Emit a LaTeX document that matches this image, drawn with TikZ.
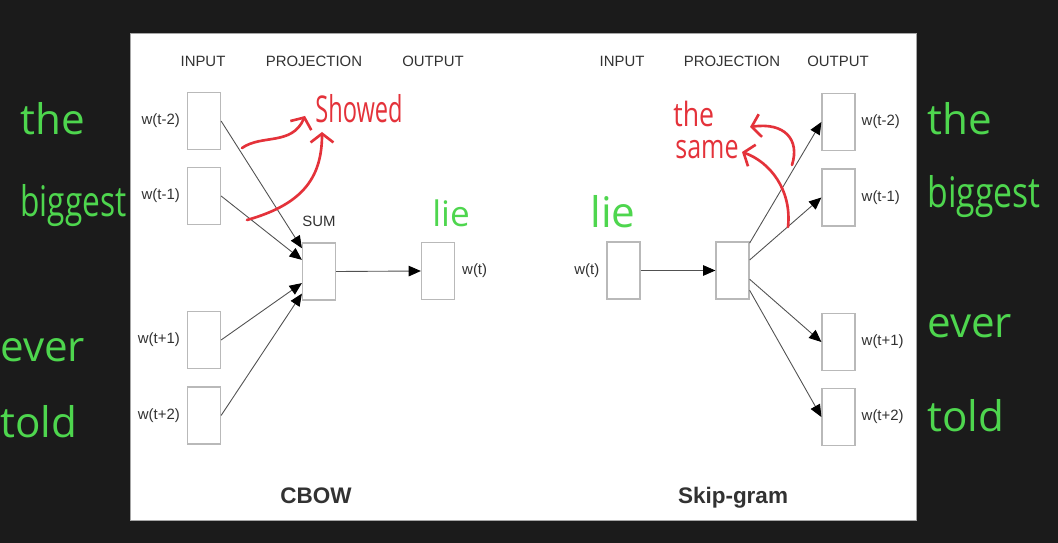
\documentclass[tikz,border=0pt]{standalone}
\usepackage{fontspec}
\setmainfont{Liberation Sans}
\newfontfamily\handfont{Open Sans}
\usetikzlibrary{
  arrows.meta,
  positioning,
  calc
}
\definecolor{board}{RGB}{27,27,27}
\definecolor{txt}{RGB}{50,50,50}
\definecolor{chalk}{RGB}{78,214,78}
\definecolor{ink}{RGB}{228,50,58}

\begin{document}
\begin{tikzpicture}[
  x=0.02cm, y=-0.02cm,
  every node/.style={font=\fontsize{8.5}{10}\selectfont, text=txt},
  unit/.style={draw=gray!55, line width=0.7pt, fill=white, inner sep=0pt,
               minimum width=0.66cm, minimum height=1.14cm},
  lbl/.style={inner sep=1pt},
  heading/.style={inner sep=0pt, anchor=base},
  title/.style={inner sep=0pt, anchor=base, font=\fontsize{12.8}{14}\selectfont\bfseries},
  link/.style={draw=txt!85, line width=0.5pt,
               -{Triangle[length=7pt, width=6pt, fill=black, color=black]}},
  hand/.style={inner sep=0pt, anchor=base west, text=chalk,
               font=\handfont\fontsize{24}{26}\selectfont},
  note/.style={inner sep=0pt, anchor=base west, text=ink,
               font=\handfont\fontsize{21}{24}\selectfont},
  scrawl/.style={draw=ink, line width=1.5pt, line cap=round, line join=round,
                 -{Straight Barb[length=5pt, width=13pt, line width=1.5pt]}}
]

% board and slide
\fill[board] (0,0) rectangle (1058,543);
\draw[gray!70, fill=white] (130,33) rectangle (916,520);

% ---- CBOW ----
\node[heading] (chin)  at (203,67) {INPUT};
\node[heading] (chpr)  at (314,67) {PROJECTION};
\node[heading] (chout) at (433,67) {OUTPUT};

\node[unit] (csum) at (319,271.5) {};
\node[lbl, above=0.28cm of csum] (csumlbl) {SUM};
\node[unit] (cout) at (438,271) {};
\node[lbl, right=0.1cm of cout] (coutlbl) {w(t)};

\foreach \n/\y/\w/\f in {1/121/t-2/0.1, 2/196/t-1/0.3, 3/340/t+1/0.7, 4/415.5/t+2/0.88} {
  \node[unit] (cin\n) at (204,\y) {};
  \node[lbl, left=0.1cm of cin\n] (cinlbl\n) {w(\w)};
  \draw[link] (cin\n.east) -- ($(csum.north west)!\f!(csum.south west)$);
}
\draw[link] (csum.east) -- (cout.west);

\node[title] (cbow) at (316,503) {CBOW};

% ---- Skip-gram ----
\node[heading] (shin)  at (622,67) {INPUT};
\node[heading] (shpr)  at (732,67) {PROJECTION};
\node[heading] (shout) at (838,67) {OUTPUT};

\node[unit] (sin) at (623.5,270.5) {};
\node[lbl, left=0.1cm of sin] (sinlbl) {w(t)};
\node[unit] (sproj) at (732.5,270.5) {};
\draw[link] (sin.east) -- (sproj.west);

\foreach \n/\y/\w/\f in {1/122/t-2/0.03, 2/197.5/t-1/0.32, 3/342/t+1/0.65, 4/417/t+2/0.84} {
  \node[unit] (sout\n) at (838.5,\y) {};
  \node[lbl, right=0.08cm of sout\n] (soutlbl\n) {w(\w)};
  \draw[link] ($(sproj.north east)!\f!(sproj.south east)$) -- (sout\n.west);
}

\node[title] (skip) at (733,503) {Skip-gram};

% ---- handwriting ----
\node[hand] (lthe)  at (20,135)  {the};
\node[hand] (lbig)  at (20,217)  {\scalebox{0.75}[1]{biggest}};
\node[hand] (lever) at (0,362)   {ever};
\node[hand] (ltold) at (0,438)   {told};
\node[hand] (rthe)  at (927,135) {the};
\node[hand] (rbig)  at (927,208) {\scalebox{0.8}[1]{biggest}};
\node[hand] (rever) at (927,338) {ever};
\node[hand] (rtold) at (927,432) {told};
\node[hand, font=\handfont\fontsize{20}{22}\selectfont] (clie) at (432,227) {lie};
\node[hand] (slie) at (590,228) {lie};

\node[note] (showed) at (315,123) {\scalebox{0.64}[1]{Showed}};
\node[note, font=\handfont\fontsize{19}{21}\selectfont] (sthe)  at (673,127) {\scalebox{0.8}[1]{the}};
\node[note, font=\handfont\fontsize{19}{21}\selectfont] (ssame) at (675,159) {\scalebox{0.75}[1]{same}};

\coordinate (ctail1) at (242,148);
\coordinate (ctail2) at (247,220);
\coordinate (stail1) at (788,227);
\coordinate (stail2) at (792,165);
\draw[scrawl] (ctail1) .. controls (262,134) and (292,146) .. (305,116);
\draw[scrawl] (ctail2) .. controls (300,205) and (322,180) .. (322,132);
\draw[scrawl] (stail1) .. controls (792,190) and (770,162) .. (742,152);
\draw[scrawl] (stail2) .. controls (800,140) and (785,122) .. (750,127);

\end{tikzpicture}
\end{document}
